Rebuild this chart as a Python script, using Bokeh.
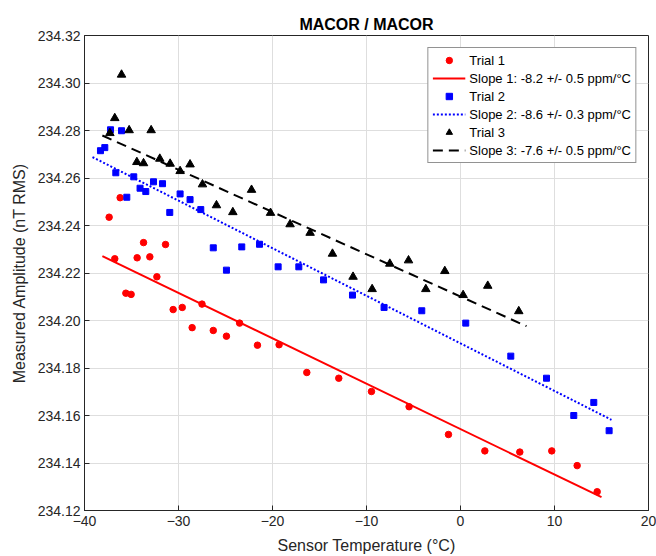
from bokeh.plotting import figure
from bokeh.models import Range1d, FixedTicker, PrintfTickFormatter, Legend, LegendItem
from bokeh.embed import file_html
from bokeh.resources import INLINE

# ---- data ----
t1_temp = [-37.38, -36.78, -36.21, -35.6, -35.04, -34.4, -33.72, -33.05, -32.3, -31.38,
           -30.57, -29.6, -28.55, -27.5, -26.3, -24.9, -23.5, -21.6, -19.3, -16.35,
           -12.95, -9.47, -5.47, -1.28, 2.59, 6.31, 9.71, 12.41, 14.54]
t1_amp = [234.2435, 234.2260, 234.2517, 234.2115, 234.2110, 234.2264, 234.2328, 234.2268,
          234.2184, 234.2320, 234.2046, 234.2055, 234.1970, 234.2069, 234.1958, 234.1934,
          234.1989, 234.1896, 234.1898, 234.1781, 234.1757, 234.1701, 234.1637, 234.1520,
          234.1451, 234.1446, 234.1451, 234.1389, 234.1279]

t2_temp = [-38.3, -37.84, -37.23, -36.06, -36.67, -35.5, -34.76, -34.09, -33.48, -32.66,
           -31.7, -30.93, -29.83, -28.77, -27.63, -26.3, -24.9, -23.27, -21.38, -19.4,
           -17.2, -14.57, -11.49, -8.13, -4.12, 0.56, 5.35, 9.15, 12.05, 14.18, 15.81]
t2_amp = [234.2715, 234.2728, 234.2803, 234.2799, 234.2622, 234.2519, 234.2605, 234.2557,
          234.2543, 234.2584, 234.2576, 234.2455, 234.2533, 234.2509, 234.2467, 234.2306,
          234.2212, 234.2310, 234.2321, 234.2226, 234.2226, 234.2171, 234.2107, 234.2055,
          234.2041, 234.1989, 234.1850, 234.1757, 234.1600, 234.1655, 234.1536]

t3_temp = [-37.3, -36.78, -36.06, -35.25, -34.43, -33.72, -32.91, -31.99, -30.89, -29.83,
           -28.77, -27.45, -25.96, -24.22, -22.23, -20.21, -18.13, -16.0, -13.62, -11.43,
           -9.4, -7.52, -5.53, -3.69, -1.67, 0.28, 2.9, 6.2]
t3_amp = [234.2789, 234.2852, 234.3035, 234.2801, 234.2667, 234.2662, 234.2801, 234.2681,
          234.2660, 234.2629, 234.2657, 234.2573, 234.2485, 234.2456, 234.2550, 234.2453,
          234.2405, 234.2369, 234.2281, 234.2184, 234.2132, 234.2239, 234.2253, 234.2132,
          234.2208, 234.2107, 234.2146, 234.2039]

fit1_temp = [-38.1, 15.0]
fit1_amp = [234.2271, 234.1256]
fit2_temp = [-39.15, 16.06]
fit2_amp = [234.2688, 234.1582]
fit3_temp = [-38.1, 7.02]
fit3_amp = [234.2779, 234.1976]

x_ticks = [-40, -30, -20, -10, 0, 10, 20]
y_ticks = [234.12, 234.14, 234.16, 234.18, 234.20, 234.22, 234.24, 234.26, 234.28, 234.30, 234.32]

labels = ["Trial 1", "Slope 1: -8.2 +/- 0.5 ppm/°C",
          "Trial 2", "Slope 2: -8.6 +/- 0.3 ppm/°C",
          "Trial 3", "Slope 3: -7.6 +/- 0.5 ppm/°C"]

FONT = "Liberation Sans"
AX = "#262626"

p = figure(width=656, height=556, output_backend="svg", toolbar_location=None,
           x_range=Range1d(-40, 20), y_range=Range1d(234.12, 234.32),
           min_border_left=84, min_border_right=8, min_border_top=35, min_border_bottom=46,
           title="MACOR / MACOR")
p.title.align = "center"
p.title.text_font = FONT
p.title.text_font_size = "16px"
p.title.text_font_style = "bold"
p.title.text_color = "#000000"
p.title.standoff = 6
p.background_fill_color = "white"
p.border_fill_color = "white"
p.outline_line_color = AX
p.outline_line_width = 1

p.xaxis.ticker = FixedTicker(ticks=x_ticks)
p.yaxis.ticker = FixedTicker(ticks=y_ticks)
p.yaxis.formatter = PrintfTickFormatter(format="%.2f")
p.xaxis.axis_label = "Sensor Temperature (°C)"
p.yaxis.axis_label = "Measured Amplitude (nT RMS)"
for ax in (p.xaxis[0], p.yaxis[0]):
    ax.axis_line_color = AX
    ax.major_tick_line_color = AX
    ax.major_tick_in = 5
    ax.major_tick_out = 0
    ax.minor_tick_line_color = None
    ax.major_label_text_font = FONT
    ax.major_label_text_font_size = "14px"
    ax.major_label_text_color = AX
    ax.axis_label_text_font = FONT
    ax.axis_label_text_font_size = "16px"
    ax.axis_label_text_font_style = "normal"
    ax.axis_label_text_color = AX
    ax.axis_label_standoff = 5
    ax.major_label_standoff = 5
p.yaxis.major_label_standoff = 4
p.yaxis.axis_label_standoff = 7
p.xaxis.axis_label_standoff = 8

p.xgrid.grid_line_color = "#dedede"
p.ygrid.grid_line_color = "#dedede"

s1 = p.scatter(t1_temp, t1_amp, marker="circle", size=6.5, fill_color="#ff0000", line_color="#ff0000")
l1 = p.line(fit1_temp, fit1_amp, line_color="#ff0000", line_width=2)
s2 = p.scatter(t2_temp, t2_amp, marker="square", size=6, fill_color="#0000ff", line_color="#0000ff")
l2 = p.line(fit2_temp, fit2_amp, line_color="#0000ff", line_width=2, line_dash="2 2")
s3 = p.scatter(t3_temp, t3_amp, marker="triangle", size=8.5, fill_color="#000000", line_color="#000000")
l3 = p.line(fit3_temp, fit3_amp, line_color="#000000", line_width=2, line_dash="10 6")

legend = Legend(items=[LegendItem(label=labels[0], renderers=[s1]),
                       LegendItem(label=labels[1], renderers=[l1]),
                       LegendItem(label=labels[2], renderers=[s2]),
                       LegendItem(label=labels[3], renderers=[l2]),
                       LegendItem(label=labels[4], renderers=[s3]),
                       LegendItem(label=labels[5], renderers=[l3])],
                location="top_right")
legend.margin = 12
legend.padding = 4
legend.spacing = 2
legend.glyph_width = 33
legend.glyph_height = 16
legend.label_height = 16
legend.label_standoff = 4
legend.label_text_font = FONT
legend.label_text_font_size = "13px"
legend.label_text_color = "#000000"
legend.border_line_color = "#262626"
legend.border_line_width = 1
legend.background_fill_color = "white"
legend.background_fill_alpha = 1
p.add_layout(legend, "center")

open("out.html", "w").write(file_html(p, INLINE))
